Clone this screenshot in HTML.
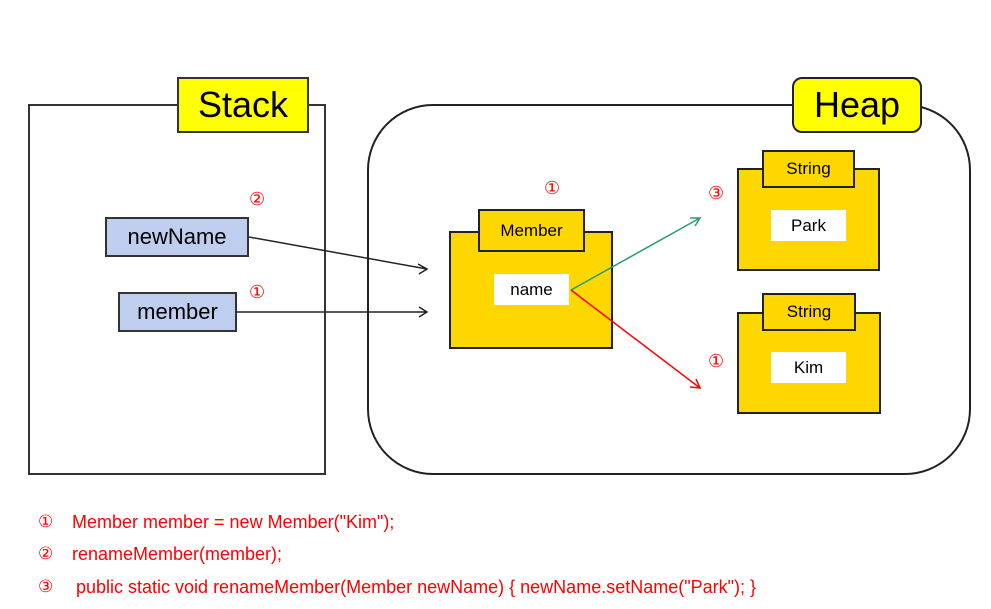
<!DOCTYPE html>
<html><head><style>
body{margin:0;width:991px;height:609px;background:#fff;position:relative;overflow:hidden;font-family:"Liberation Sans","DejaVu Sans",sans-serif}
div{position:absolute;box-sizing:border-box}
.c{display:flex;align-items:center;justify-content:center}
.y{background:#ffd700;border:2px solid #222}
.w{background:#fff}
.r{color:#f00;font-size:18px;font-family:"DejaVu Sans",sans-serif;line-height:18px}
.t{color:#f00;font-size:18px;white-space:nowrap}
.t span{position:absolute;left:0;font-family:"DejaVu Sans",sans-serif;font-size:17px}
</style></head><body>
<div style="left:28px;top:104px;width:298px;height:371px;border:2px solid #333"></div>
<div style="left:367px;top:104px;width:604px;height:371px;border:2px solid #222;border-radius:66px"></div>
<div class="c" style="left:177px;top:77px;width:132px;height:56px;background:#ffff00;border:2px solid #333;font-size:36px">Stack</div>
<div class="c" style="left:792px;top:77px;width:130px;height:56px;background:#ffff00;border:2px solid #222;border-radius:10px;font-size:36px">Heap</div>
<div class="c" style="left:105px;top:217px;width:144px;height:40px;background:#bfcdee;border:2px solid #333;font-size:22px">newName</div>
<div class="c" style="left:118px;top:292px;width:119px;height:40px;background:#bfcdee;border:2px solid #333;font-size:22px">member</div>
<div class="y" style="left:449px;top:231px;width:164px;height:118px"></div>
<div class="y c" style="left:478px;top:209px;width:107px;height:43px;font-size:17px">Member</div>
<div class="w c" style="left:494px;top:274px;width:75px;height:31px;font-size:17px">name</div>
<div class="y" style="left:737px;top:168px;width:143px;height:103px"></div>
<div class="y c" style="left:762px;top:150px;width:93px;height:38px;font-size:17px">String</div>
<div class="w c" style="left:771px;top:210px;width:75px;height:31px;font-size:17px">Park</div>
<div class="y" style="left:737px;top:312px;width:144px;height:102px"></div>
<div class="y c" style="left:762px;top:293px;width:94px;height:38px;font-size:17px">String</div>
<div class="w c" style="left:771px;top:352px;width:75px;height:31px;font-size:17px">Kim</div>
<div class="r" style="left:249px;top:191px">②</div>
<div class="r" style="left:249px;top:284px">①</div>
<div class="r" style="left:544px;top:180px">①</div>
<div class="r" style="left:708px;top:185px">③</div>
<div class="r" style="left:708px;top:353px">①</div>
<svg style="position:absolute;left:0;top:0" width="991" height="609">
<g fill="none" stroke-width="1.5">
<path d="M249 237L427 269M418 264L427 269L419 274" stroke="#222"/>
<path d="M237 312L427 312M419 307L427 312L419 317" stroke="#222"/>
<path d="M571 290L700 218M690 218L700 218L695 226" stroke="#2a9a70"/>
<path d="M571 290L700 388M696 379L700 388L690 387" stroke="#f00"/>
</g></svg>
<div class="t" style="left:38px;top:512px"><span>①</span><b style="font-weight:normal;position:absolute;left:34px">Member member = new Member("Kim");</b></div>
<div class="t" style="left:38px;top:544px"><span>②</span><b style="font-weight:normal;position:absolute;left:34px">renameMember(member);</b></div>
<div class="t" style="left:38px;top:577px"><span>③</span><b style="font-weight:normal;position:absolute;left:38px">public static void renameMember(Member newName) { newName.setName("Park"); }</b></div>
</body></html>
